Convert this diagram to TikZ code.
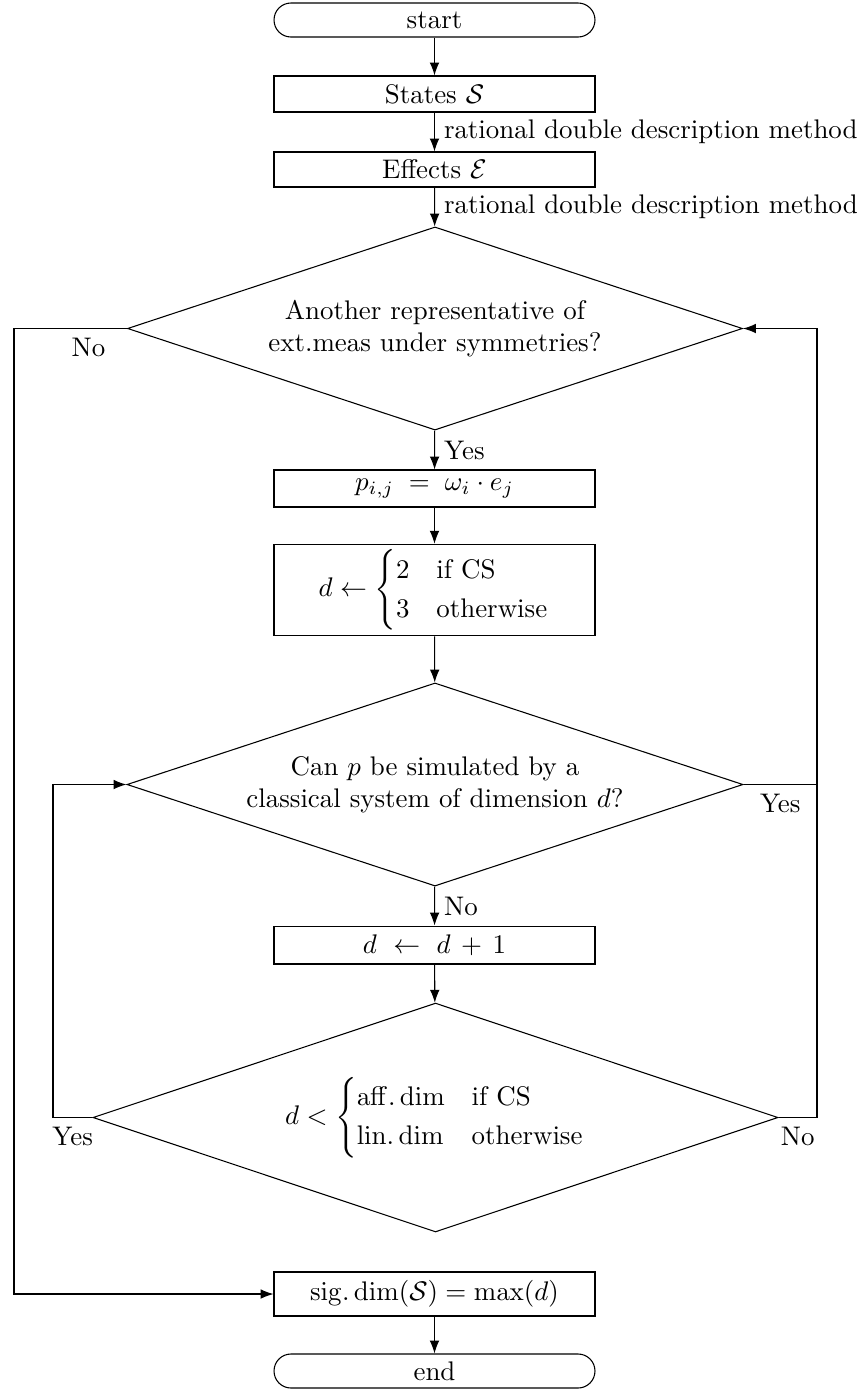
\documentclass[tikz,border=0pt]{standalone}
\usepackage{amsmath}
\usetikzlibrary{shapes.geometric, arrows.meta}
\begin{document}
\begin{tikzpicture}[x=0.3717pt, y=-0.3717pt,
  box/.style={draw, rectangle, minimum width=119.3pt, inner sep=2pt},
  term/.style={draw, rectangle, rounded corners=6.3pt, minimum width=119.3pt, minimum height=12.64pt, inner sep=2pt},
  decision/.style={draw, diamond, shape aspect=3, inner sep=1pt, align=center},
  arr/.style={-{Latex}},
  lbl/.style={inner sep=3.33pt}]
\useasboundingbox (0,0) rectangle (857,1389);
\coordinate (xl) at (14,0);
\coordinate (xi) at (53,0);
\coordinate (xr) at (817,0);

\node[term] (start) at (434.5,20) {start};
\node[box, minimum height=13.4pt] (S) at (434.5,94) {States $\mathcal{S}$};
\node[box, minimum height=13.0pt] (E) at (434.5,169.5) {Effects $\mathcal{E}$};
\node[decision, minimum width=228.6pt, minimum height=75.5pt] (D1) at (435,328.5)
  {Another representative of\\ext.meas under symmetries?};
\node[box, minimum height=13.75pt] (P) at (434.5,488.5) {$p_{i,j}\;=\;\omega_i\cdot e_j$};
\node[box, minimum height=32.7pt] (DB) at (434.5,590)
  {$d \leftarrow \begin{cases} 2 & \text{if CS}\\ 3 & \text{otherwise}\end{cases}$};
\node[decision, minimum width=229pt, minimum height=75.5pt] (D2) at (435,784.5)
  {Can $p$ be simulated by a\\classical system of dimension $d$?};
\node[box, minimum height=14.1pt] (DP) at (434.5,945) {$d\ \leftarrow\ d\,+\,1$};
\node[decision, minimum width=254.6pt, minimum height=85.1pt] (D3) at (435.5,1117.5)
  {$d < \begin{cases} \mathrm{aff.}\dim & \text{if CS}\\ \mathrm{lin.}\dim & \text{otherwise}\end{cases}$};
\node[box, minimum height=16.35pt] (SIG) at (434.5,1294) {$\mathrm{sig.}\dim(\mathcal{S}) = \max(d)$};
\node[term] (end) at (434.5,1371) {end};

\draw[arr] (start) -- (S);
\draw[arr] (S) -- node[right, lbl] (l1) {rational double description method} (E);
\draw[arr] (E) -- node[right, lbl] (l2) {rational double description method} (D1);
\draw[arr] (D1) -- node[right, lbl] (l3) {Yes} (P);
\draw[arr] (P) -- (DB);
\draw[arr] (DB) -- (D2);
\draw[arr] (D2) -- node[right, lbl] (l4) {No} (DP);
\draw[arr] (DP) -- (D3);
\draw[arr] (SIG) -- (end);

\draw[arr] (D1.west) -- node[below, lbl, pos=0.34] (l5) {No} (D1.west -| xl) |- (SIG.west);
\draw[arr] (D3.west) -- node[below, lbl] (l6) {Yes} (D3.west -| xi) |- (D2.west);
\draw[arr] (D3.east) -- node[below, lbl] (l7) {No} (D3.east -| xr) -- (D1.east -| xr) -- (D1.east);
\draw (D2.east) -- node[below, lbl] (l8) {Yes} (D2.east -| xr);
\end{tikzpicture}
\end{document}
